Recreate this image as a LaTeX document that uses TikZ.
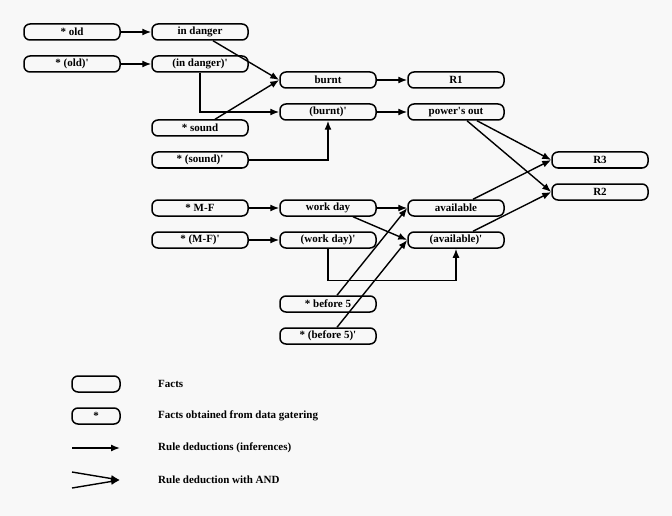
\documentclass[tikz,border=0pt]{standalone}
\usepackage{fontspec}
\setmainfont{Liberation Serif}
\usetikzlibrary{arrows.meta}
\definecolor{bgc}{RGB}{248,248,248}
\newcommand{\q}{\textquotesingle}
\begin{document}
\begin{tikzpicture}[x=1pt,y=-1pt,
  fact/.style={draw, line width=1.5pt, rounded corners=6pt, minimum width=96pt, minimum height=16pt, inner sep=0pt, font=\bfseries\fontsize{11}{12}\selectfont},
  smallfact/.style={fact, minimum width=48pt},
  lbl/.style={anchor=west, inner sep=0pt, font=\bfseries\fontsize{11}{12}\selectfont},
  arr/.style={line width=1.4pt, -{Latex[length=9pt,width=7pt]}},
]
\fill[bgc] (0,0) rectangle (672,516);
\useasboundingbox (0,0) rectangle (672,516);

% column 1
\node[fact] (old)  at (72,32) {* old};
\node[fact] (oldp) at (72,64) {* (old)\q};
% column 2
\node[fact] (dan)  at (200,32) {in danger};
\node[fact] (danp) at (200,64) {(in danger)\q};
\node[fact] (snd)  at (200,128) {* sound};
\node[fact] (sndp) at (200,160) {* (sound)\q};
\node[fact] (mf)   at (200,208) {* M-F};
\node[fact] (mfp)  at (200,240) {* (M-F)\q};
% column 3
\node[fact] (brn)  at (328,80) {burnt};
\node[fact] (brnp) at (328,112) {(burnt)\q};
\node[fact] (wd)   at (328,208) {work day};
\node[fact] (wdp)  at (328,240) {(work day)\q};
\node[fact] (bf)   at (328,304) {* before 5};
\node[fact] (bfp)  at (328,336) {* (before 5)\q};
% column 4
\node[fact] (ra)   at (456,80) {R1};
\node[fact] (pow)  at (456,112) {power\q s out};
\node[fact] (av)   at (456,208) {available};
\node[fact] (avp)  at (456,240) {(available)\q};
% column 5
\node[fact] (rc)   at (600,160) {R3};
\node[fact] (rb)   at (600,192) {R2};

% simple rules
\draw[arr] (old) -- (dan);
\draw[arr] (oldp) -- (danp);
\draw[arr] (brn) -- (ra);
\draw[arr] (brnp) -- (pow);
\draw[arr] (mf) -- (wd);
\draw[arr] (mfp) -- (wdp);
\draw[arr] (danp.south) |- (brnp.west);
\draw[arr] (sndp.east) -| (brnp.south);
\draw[arr] (wdp.south) -- ++(0,32) -| (avp.south);

% AND rules
\draw[arr] ([xshift=13pt]dan.south) -- (brn.west);
\draw[arr] ([xshift=15pt]snd.north) -- (brn.west);

\draw[arr] (wd.east) -- (av.west);
\draw[arr] ([xshift=9pt]bf.north) -- (av.west);

\draw[arr] ([xshift=25pt]wd.south) -- (avp.west);
\draw[arr] ([xshift=9pt]bfp.north) -- (avp.west);

\draw[arr] ([xshift=21pt]pow.south) -- (rc.west);
\draw[arr] ([xshift=17pt]av.north) -- (rc.west);

\draw[arr] ([xshift=11pt]pow.south) -- (rb.west);
\draw[arr] ([xshift=17pt]avp.north) -- (rb.west);

% legend
\node[smallfact] (lg1) at (96,384) {};
\node[smallfact] (lg2) at (96,416) {*};
\node[lbl] (t1) at (158,384) {Facts};
\node[lbl] (t2) at (158,416) {Facts obtained from data gatering};
\coordinate (a1) at (72,448);
\coordinate (a2) at (120,448);
\draw[arr] (a1) -- (a2);
\node[lbl] (t3) at (158,448) {Rule deductions (inferences)};
\coordinate (b1) at (72,472);
\coordinate (b2) at (72,488);
\coordinate (b3) at (120,480);
\draw[arr] (b1) -- (b3);
\draw[arr] (b2) -- (b3);
\node[lbl] (t4) at (158,480) {Rule deduction with AND};
\end{tikzpicture}
\end{document}
